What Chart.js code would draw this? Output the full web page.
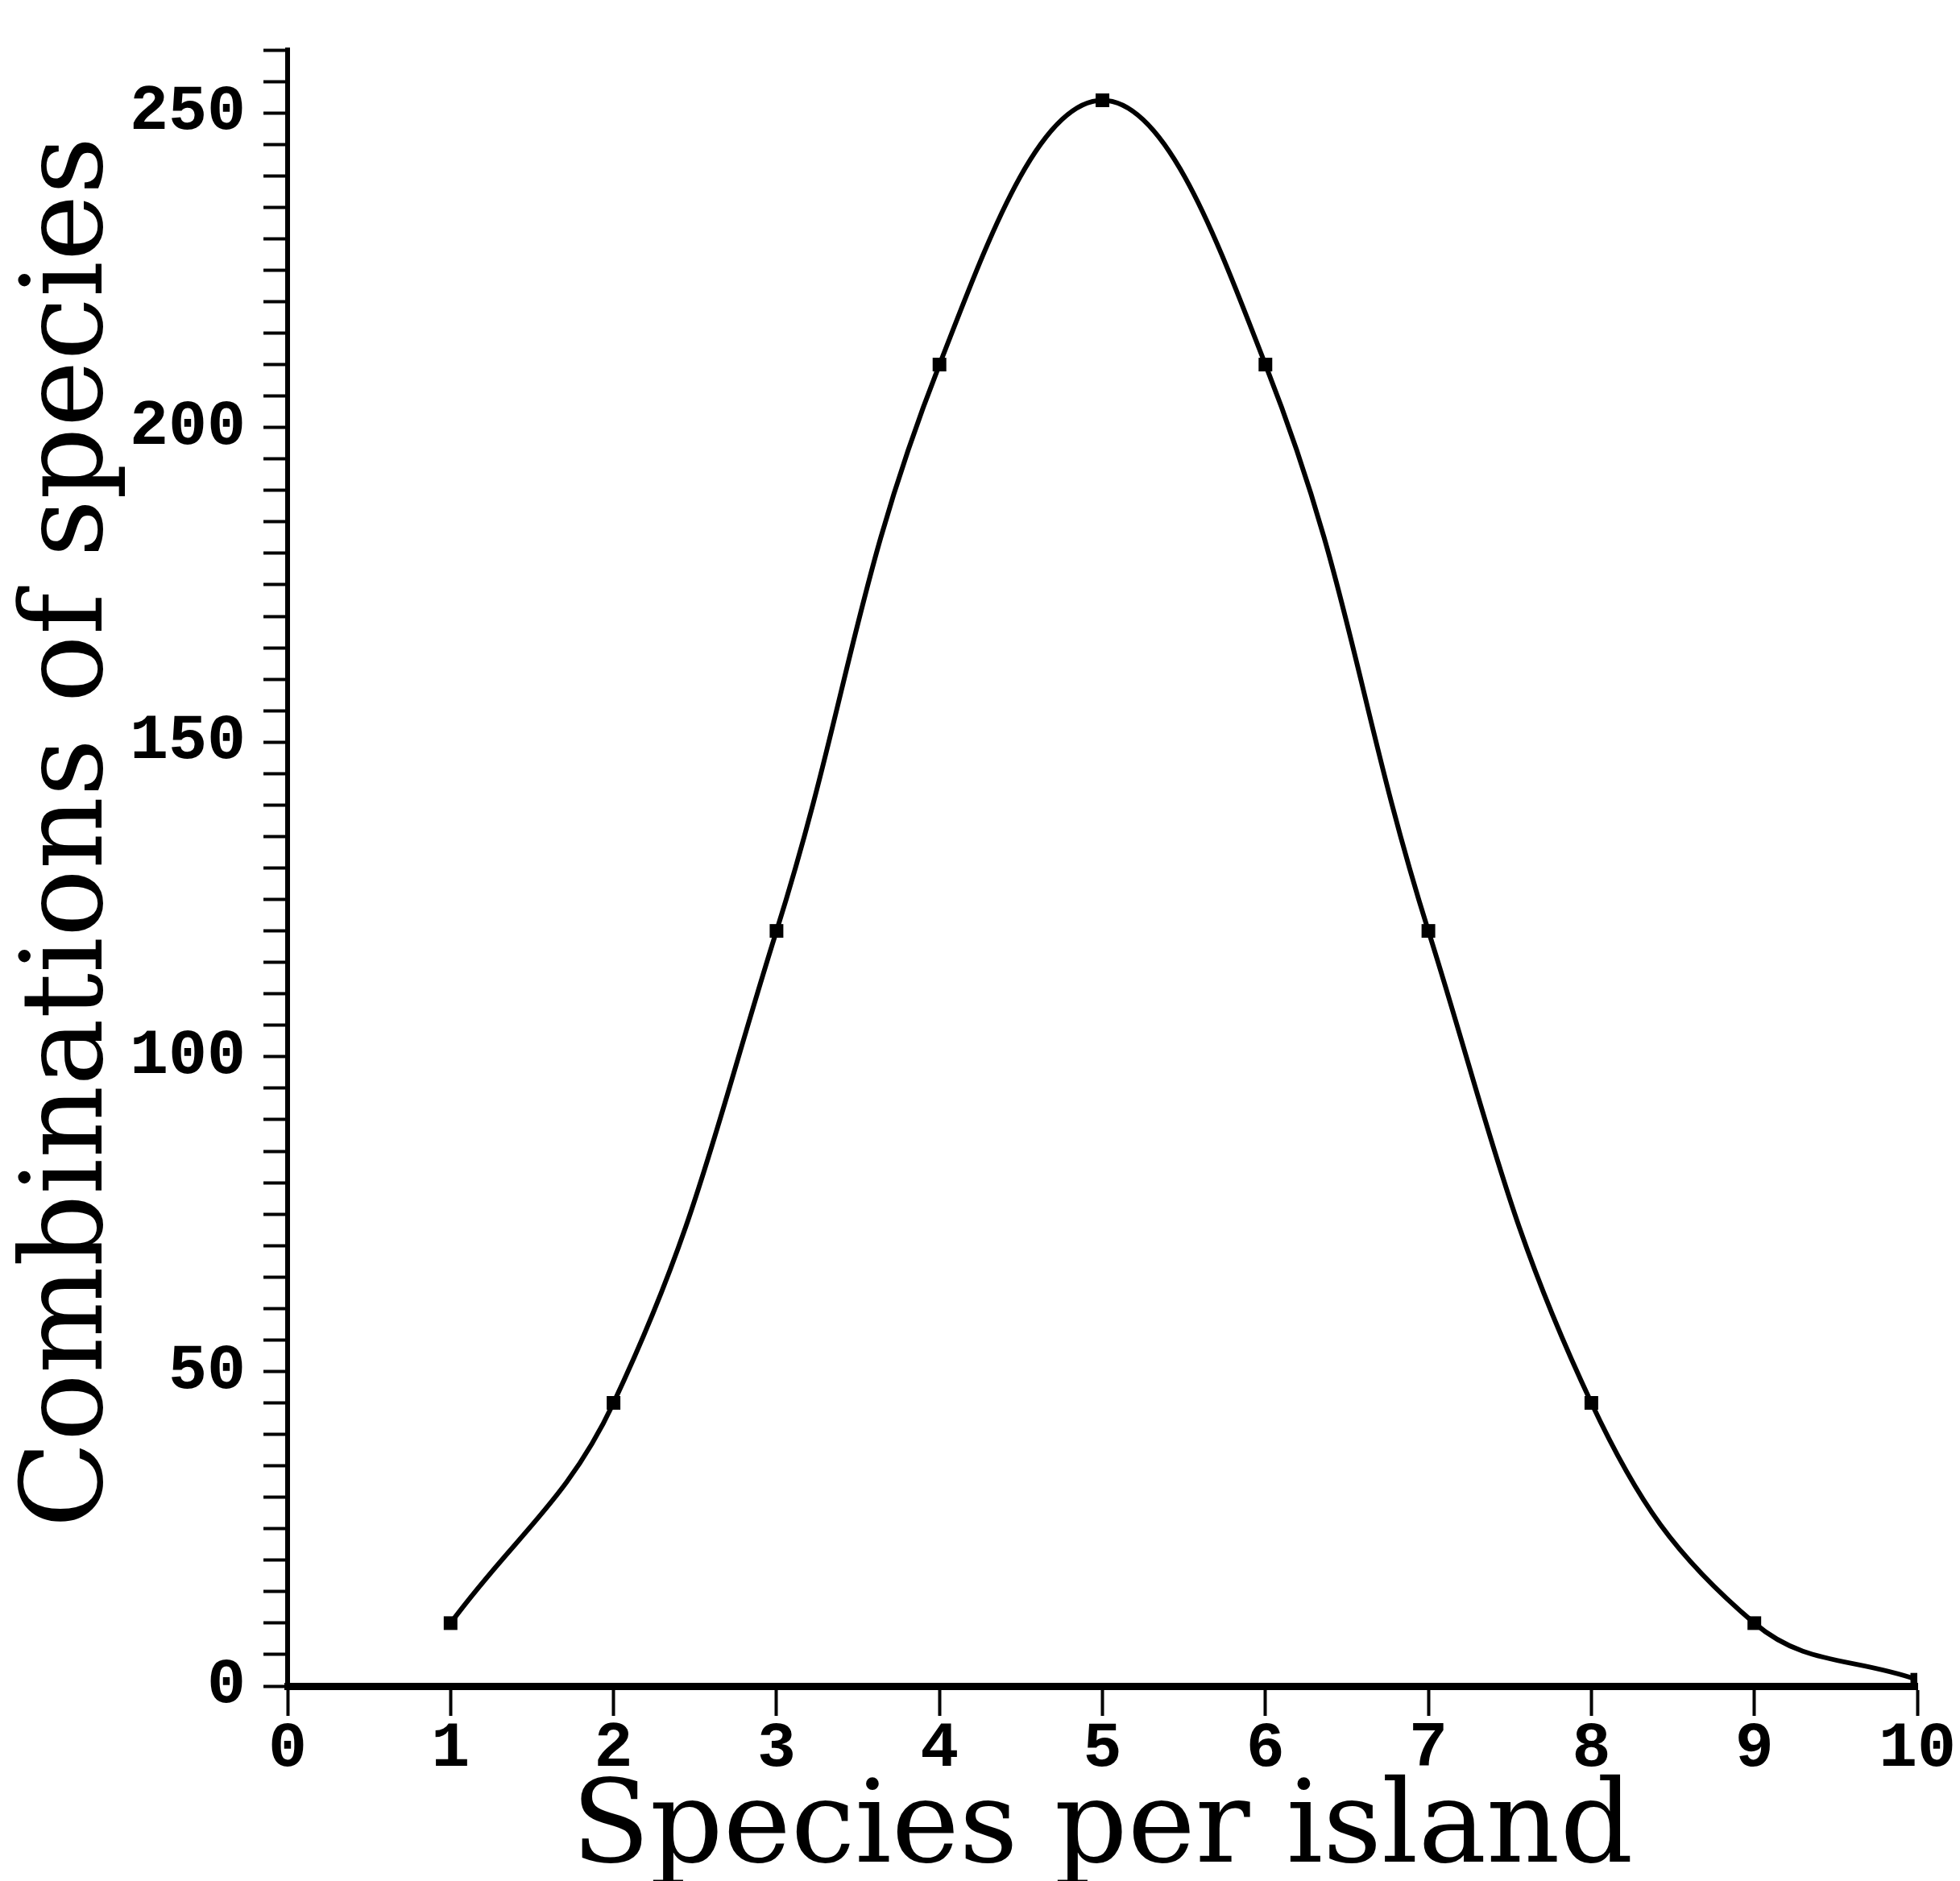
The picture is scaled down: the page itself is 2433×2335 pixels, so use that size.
<!DOCTYPE html>
<html>
<head>
<meta charset="utf-8">
<script src="https://cdn.jsdelivr.net/npm/chart.js@4"></script>
<style>
  html, body { margin: 0; padding: 0; background: #fff; }
  #wrap { width: 2433px; height: 2335px; }
  canvas { background: #fff; }
</style>
</head>
<body>
<div id="wrap"><canvas id="chart" width="2433" height="2335"></canvas></div>
<script>
// data
const speciesPerIsland = [1, 2, 3, 4, 5, 6, 7, 8, 9, 10];
const combinations = [10, 45, 120, 210, 252, 210, 120, 45, 10, 1];
const yLabelled = [0, 50, 100, 150, 200, 250];

const ink = '#000';

const ctx = document.getElementById('chart').getContext('2d');
new Chart(ctx, {
    type: 'line',
    data: {
        datasets: [{
            data: speciesPerIsland.map((x, i) => ({ x: x, y: combinations[i] })),
            borderColor: ink,
            backgroundColor: ink,
            borderWidth: 6,
            tension: 0.4,
            pointStyle: 'rect',
            pointRadius: 12,
            pointBorderWidth: 0,
            fill: false
        }]
    },
    options: {
        responsive: false,
        animation: false,
        layout: { padding: { top: 47, right: 53, left: 0, bottom: 0 } },
        plugins: { legend: { display: false }, tooltip: { enabled: false } },
        scales: {
            x: {
                type: 'linear',
                min: 0,
                max: 10,
                border: { color: ink, width: 9 },
                grid: { drawOnChartArea: false, color: ink, tickLength: 37, tickWidth: 4 },
                ticks: {
                    stepSize: 1,
                    autoSkip: false,
                    color: ink,
                    padding: 2,
                    maxRotation: 0,
                    font: { family: 'Liberation Mono', size: 80, weight: 'bold', lineHeight: 1 }
                },
                title: {
                    display: true,
                    text: 'Species per island',
                    color: ink,
                    padding: { top: 0, bottom: 4 },
                    font: { family: 'DejaVu Serif', size: 142, lineHeight: 0.8 }
                },
                afterFit: (s) => { s.height = 242; }
            },
            y: {
                type: 'linear',
                min: 0,
                max: 260,
                border: { color: ink, width: 6 },
                grid: { drawOnChartArea: false, color: ink, tickLength: 30, tickWidth: 4 },
                ticks: {
                    stepSize: 5,
                    autoSkip: false,
                    color: ink,
                    padding: 22,
                    callback: (v) => yLabelled.includes(v) ? String(v) : '',
                    font: { family: 'Liberation Mono', size: 80, weight: 'bold', lineHeight: 1 }
                },
                title: {
                    display: true,
                    text: '  Combinations of species',
                    color: ink,
                    padding: { top: 20, bottom: 0 },
                    font: { family: 'DejaVu Serif', size: 140, lineHeight: 1 }
                },
                afterFit: (s) => { s.width = 357; }
            }
        }
    }
});
</script>
</body>
</html>
